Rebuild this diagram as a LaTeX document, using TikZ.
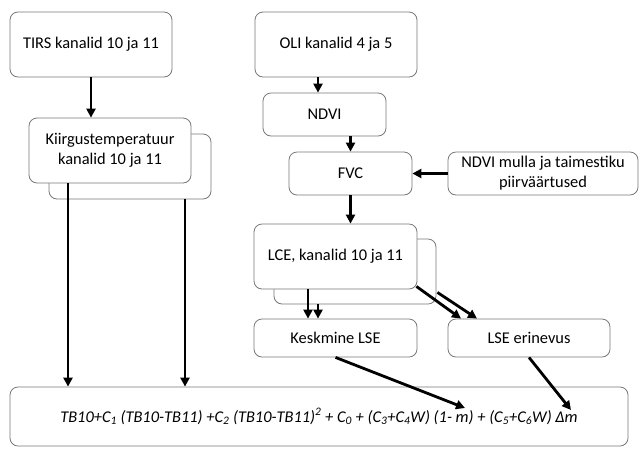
\documentclass[tikz,border=0pt]{standalone}
\usepackage{fontspec}
\setmainfont{Carlito}
\usepackage{tikz}
\usetikzlibrary{positioning, arrows.meta}

\definecolor{boxline}{RGB}{120,120,120}

\begin{document}
\begin{tikzpicture}[x=1pt, y=-1pt,
  box/.style={rectangle, draw=boxline, line width=0.8pt, fill=white, rounded corners=8pt,
    align=center, inner sep=0pt, font=\fontsize{16.4}{20}\selectfont},
  arr/.style={-{Triangle[length=9pt, width=9pt]}, line width=2.8pt}]

\useasboundingbox (0,0) rectangle (644,448);

% left column
\node (tirs) [box, minimum width=162pt, minimum height=65pt] at (91,44.5) {TIRS kanalid 10 ja 11};
\node (kiirgB) [box, minimum width=162pt, minimum height=65pt] at (130,166.5) {};
\node (kiirg) [box, minimum width=162pt, minimum height=65pt] at (110,150.5)
{Kiirgustemperatuur\\kanalid 10 ja 11};

% right column
\node (oli) [box, minimum width=162pt, minimum height=65pt] at (336,44.5) {OLI kanalid 4 ja 5};
\node (ndvi) [box, minimum width=123pt, minimum height=43pt] at (324.5,114.5) {NDVI};
\node (fvc) [box, minimum width=123pt, minimum height=43pt] at (350.5,173.5) {FVC};
\node (piir) [box, minimum width=190pt, minimum height=43pt] at (543,173.5)
{NDVI mulla ja taimestiku\\piirväärtused};
\node (lceB) [box, minimum width=162pt, minimum height=65pt] at (355,271.5) {};
\node (lce) [box, minimum width=163pt, minimum height=65pt] at (335.5,256.5) {LCE, kanalid 10 ja 11};
\node (kesk) [box, minimum width=163pt, minimum height=38pt] at (335.5,338) {Keskmine LSE};
\node (lsee) [box, minimum width=162pt, minimum height=38pt] at (529,338) {LSE erinevus};

% bottom
\node (lst) [box, minimum width=618pt, minimum height=59pt] at (319,416.5)
{\itshape TB10+C\textsubscript{1} (TB10-TB11) +C\textsubscript{2} (TB10-TB11)\textsuperscript{2} + C\textsubscript{0} + (C\textsubscript{3}+C\textsubscript{4}W) (1- m) + (C\textsubscript{5}+C\textsubscript{6}W) Δm};

\draw[arr] (tirs.south) -- (tirs.south |- kiirg.north);
\draw[arr] ([xshift=-42pt]kiirg.south) -- ([xshift=-42pt]kiirg.south |- lst.north);
\draw[arr] ([xshift=55pt]kiirgB.south) -- ([xshift=55pt]kiirgB.south |- lst.north);

\draw[arr] ([xshift=-18pt]oli.south) -- ([xshift=-18pt]oli.south |- ndvi.north);
\draw[arr] (fvc.north |- ndvi.south) -- (fvc.north);
\draw[arr] (piir.west) -- (fvc.east);
\draw[arr] (fvc.south) -- (fvc.south |- lce.north);

\draw[arr] ([xshift=-27.5pt]lce.south) -- ([xshift=-27.5pt]lce.south |- kesk.north);
\draw[arr] ([xshift=-37pt]lceB.south) -- ([xshift=-37pt]lceB.south |- kesk.north);
\draw[arr] ([shift={(-1pt,3pt)}]lce.south east) -- ([xshift=-68pt]lsee.north);
\draw[arr] ([shift={(1pt,12pt)}]lceB.south east) -- ([xshift=-52pt]lsee.north);

\draw[arr] (kesk.south) -- ([shift={(146pt,8.5pt)}]lst.center);
\draw[arr] (lsee.south) -- ([shift={(252pt,6.5pt)}]lst.center);

\end{tikzpicture}
\end{document}
